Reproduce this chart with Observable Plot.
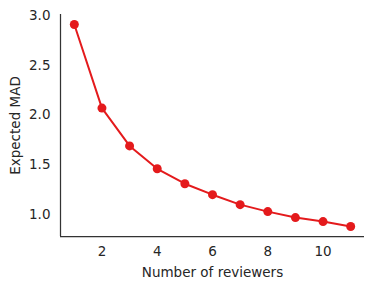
<!DOCTYPE html>
<html>
<head>
<meta charset="utf-8">
<script src="https://cdn.jsdelivr.net/npm/d3@7"></script>
<script src="https://cdn.jsdelivr.net/npm/@observablehq/plot@0.6"></script>
<style>
  html, body { margin: 0; padding: 0; background: #fff; }
  #chart svg { display: block; }
</style>
</head>
<body>
<div id="chart"></div>
<script>
const reviewers = [1, 2, 3, 4, 5, 6, 7, 8, 9, 10, 11];
const expectedMAD = [2.91, 2.07, 1.69, 1.46, 1.31, 1.20, 1.10, 1.03, 0.97, 0.93, 0.88];
const xTicks = [2, 4, 6, 8, 10];
const yTicks = [1.0, 1.5, 2.0, 2.5, 3.0];

const data = reviewers.map((n, i) => ({n, mad: expectedMAD[i]}));
const xDomain = [0.5, 11.5];
const yDomain = [0.78, 3.01];
const red = "#e41a1c";
const ink = "#262626";

const chart = Plot.plot({
  width: 374,
  height: 288,
  marginLeft: 60,
  marginRight: 10,
  marginTop: 14,
  marginBottom: 52,
  style: {fontFamily: "DejaVu Sans", fontSize: "13.5px", color: ink, background: "#fff"},
  x: {domain: xDomain},
  y: {domain: yDomain},
  marks: [
    Plot.axisX({ticks: xTicks, tickSize: 0, tickPadding: 10, tickFormat: d => String(d), fontSize: 13.5, label: "Number of reviewers", labelAnchor: "center", labelArrow: "none", labelOffset: 40}),
    Plot.axisY({ticks: yTicks, tickSize: 0, tickPadding: 10, tickFormat: d => d.toFixed(1), fontSize: 13.5, label: "Expected MAD", labelAnchor: "center", labelArrow: "none", labelOffset: 50}),
    Plot.ruleX([xDomain[0]], {stroke: "#333", strokeWidth: 1.25}),
    Plot.ruleY([yDomain[0]], {stroke: "#333", strokeWidth: 1.25}),
    Plot.line(data, {x: "n", y: "mad", stroke: red, strokeWidth: 2}),
    Plot.dot(data, {x: "n", y: "mad", fill: red, r: 4.5})
  ]
});
document.getElementById("chart").append(chart);
</script>
</body>
</html>
